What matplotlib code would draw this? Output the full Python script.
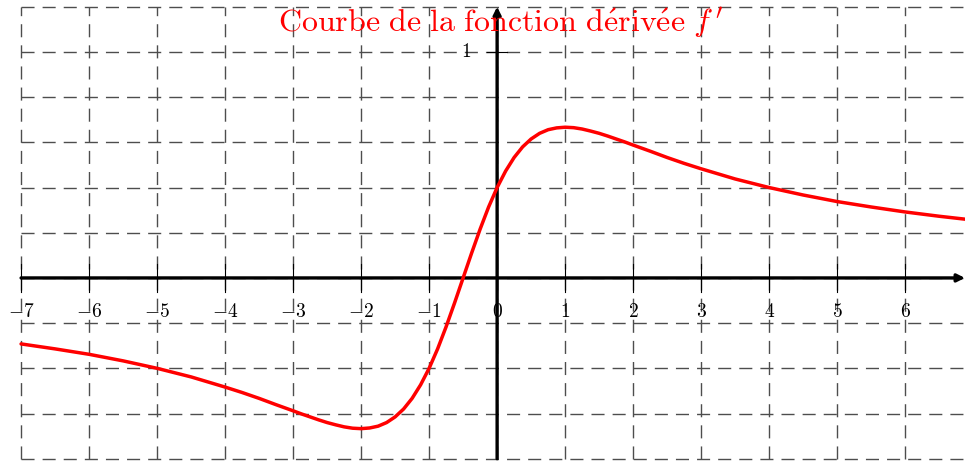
import matplotlib
matplotlib.use("Agg")
import matplotlib.pyplot as plt

plt.rcParams['mathtext.fontset'] = 'cm'

# sampled values of the derivative curve
x_vals = [-7, -6.5, -6, -5.5, -5, -4.5, -4, -3.75, -3.5, -3.25, -3, -2.875,
          -2.75, -2.625, -2.5, -2.375, -2.25, -2.125, -2, -1.875, -1.75,
          -1.625, -1.5, -1.375, -1.25, -1.125, -1, -0.875, -0.75, -0.625,
          -0.5, -0.375, -0.25, -0.125, 0, 0.125, 0.25, 0.375, 0.5, 0.625,
          0.75, 0.875, 1, 1.125, 1.25, 1.375, 1.5, 1.625, 1.75, 1.875, 2,
          2.25, 2.5, 2.75, 3, 3.5, 4, 4.5, 5, 5.5, 6, 6.5, 7]
y_vals = [-0.292, -0.314, -0.338, -0.367, -0.400, -0.438, -0.483, -0.507,
          -0.533, -0.561, -0.588, -0.602, -0.615, -0.628, -0.640, -0.650,
          -0.659, -0.665, -0.667, -0.664, -0.656, -0.640, -0.615, -0.580,
          -0.533, -0.473, -0.400, -0.314, -0.216, -0.110, 0.0, 0.110, 0.216,
          0.314, 0.400, 0.473, 0.533, 0.580, 0.615, 0.640, 0.656, 0.664,
          0.667, 0.665, 0.659, 0.650, 0.640, 0.628, 0.615, 0.602, 0.588,
          0.561, 0.533, 0.507, 0.483, 0.438, 0.400, 0.367, 0.338, 0.314,
          0.292, 0.273, 0.256]

x_ticks = [-7, -6, -5, -4, -3, -2, -1, 0, 1, 2, 3, 4, 5, 6]
x_grid = [-7, -6, -5, -4, -3, -2, -1, 0, 1, 2, 3, 4, 5, 6, 7]
y_grid = [-0.8, -0.6, -0.4, -0.2, 0, 0.2, 0.4, 0.6, 0.8, 1.0, 1.2]

title = r"$\mathrm{Courbe\ de\ la\ fonction\ d\acute{e}riv\acute{e}e}\ f\,'$"

fig = plt.figure(figsize=(9.65, 4.63), dpi=100)
ax = fig.add_axes([0, 0, 1, 1])
ax.set_xlim(-7.31, 6.88)
ax.set_ylim(-0.819, 1.23)
ax.axis('off')

# dashed grid
dash = (0, (9.4, 5.8))
for gx in x_grid:
    ax.plot([gx, gx], [y_grid[0], y_grid[-1]], color='0.3', lw=1.0,
            linestyle=dash, zorder=1)
for gy in y_grid:
    ax.plot([x_grid[0], x_grid[-1]], [gy, gy], color='0.3', lw=1.0,
            linestyle=dash, zorder=1)

# axes with arrows
ax.annotate('', xy=(6.88, 0), xytext=(-7, 0),
            arrowprops=dict(arrowstyle='-|>', lw=2.4, color='black',
                            mutation_scale=11, shrinkA=0, shrinkB=0), zorder=3)
ax.annotate('', xy=(0, 1.2), xytext=(0, -0.8),
            arrowprops=dict(arrowstyle='-|>', lw=2.4, color='black',
                            mutation_scale=11, shrinkA=0, shrinkB=0), zorder=3)

# tick marks and labels
for t in x_ticks:
    ax.plot([t, t], [-0.062, 0.062], color='black', lw=0.8, zorder=3)
    lab = r"$-%d$" % -t if t < 0 else r"$%d$" % t
    ax.text(t, -0.15, lab, ha='center', va='center', fontsize=14, zorder=4)
ax.plot([-0.15, 0.15], [1, 1], color='black', lw=0.8, zorder=3)
ax.text(-0.46, 1.0, r"$1$", ha='center', va='center', fontsize=14, zorder=4)

# curve
ax.plot(x_vals, y_vals, color='red', lw=2.5, zorder=5,
        solid_joinstyle='round', solid_capstyle='round')

ax.text(0.05, 1.13, title, color='red', ha='center', va='center',
        fontsize=23, zorder=6)

fig.savefig("out.png", dpi=100)
